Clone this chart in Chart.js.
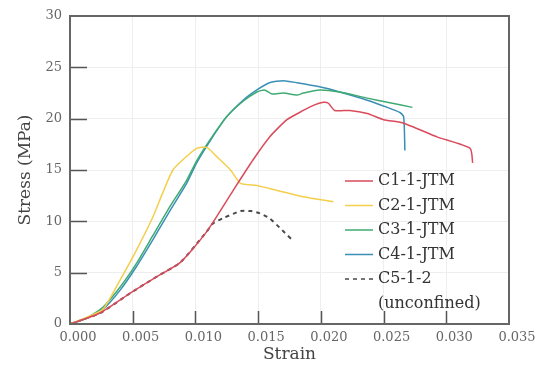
<!DOCTYPE html>
<html>
<head>
<meta charset="utf-8">
<script src="https://cdn.jsdelivr.net/npm/chart.js@4"></script>
<style>
  html, body { margin: 0; padding: 0; background: #fff; }
  #wrap { width: 543px; height: 378px; position: relative; }
</style>
</head>
<body>
<div id="wrap"><canvas id="chart"></canvas></div>
<script>
/* ===== DATA ===== */

const seriesLabels = ["C1-1-JTM", "C2-1-JTM", "C3-1-JTM", "C4-1-JTM", "C5-1-2\n(unconfined)"];
const seriesColors = ["#d94b5c", "#f3cf4c", "#3fab72", "#3b8fb6", "#4a4a4a"];

const c1Strain = [0, 0.0024, 0.0048, 0.0069, 0.0088, 0.0109, 0.0130, 0.0146, 0.0159, 0.0173, 0.0186, 0.0194, 0.0202, 0.0206, 0.0211, 0.0223, 0.0237, 0.0250, 0.0265, 0.0293, 0.0319, 0.0321];
const c1Stress = [0, 1.07, 3.0, 4.6, 6.0, 9.0, 13.0, 16.0, 18.2, 19.9, 20.8, 21.3, 21.6, 21.5, 20.8, 20.8, 20.5, 19.9, 19.6, 18.2, 17.1, 15.7];

const c2Strain = [0, 0.0012, 0.0026, 0.0040, 0.0053, 0.0066, 0.0074, 0.0082, 0.0090, 0.0101, 0.0109, 0.0117, 0.0128, 0.0136, 0.0149, 0.0159, 0.0186, 0.0210];
const c2Stress = [0, 0.6, 1.4, 4.3, 7.2, 10.4, 12.8, 15.0, 16.0, 17.1, 17.2, 16.3, 15.0, 13.7, 13.5, 13.2, 12.4, 11.9];

const c3Strain = [0, 0.0012, 0.0026, 0.0040, 0.0053, 0.0066, 0.0080, 0.0093, 0.0101, 0.0112, 0.0125, 0.0138, 0.0149, 0.0155, 0.0161, 0.0170, 0.0181, 0.0186, 0.0199, 0.0215, 0.0237, 0.0253, 0.0273];
const c3Stress = [0, 0.5, 1.6, 3.6, 5.9, 8.6, 11.5, 14.0, 15.9, 18.0, 20.2, 21.7, 22.6, 22.8, 22.4, 22.5, 22.3, 22.5, 22.8, 22.6, 22.0, 21.6, 21.1];

const c4Strain = [0, 0.0012, 0.0026, 0.0040, 0.0053, 0.0066, 0.0080, 0.0093, 0.0101, 0.0112, 0.0125, 0.0138, 0.0149, 0.0159, 0.0170, 0.0181, 0.0199, 0.0215, 0.0237, 0.0253, 0.0263, 0.0266, 0.0267];
const c4Stress = [0, 0.5, 1.4, 3.3, 5.6, 8.2, 11.1, 13.7, 15.7, 17.9, 20.2, 21.8, 22.8, 23.5, 23.7, 23.5, 23.1, 22.6, 21.8, 21.1, 20.6, 20.2, 16.9];

const c5Strain = [0, 0.0024, 0.0048, 0.0069, 0.0088, 0.0109, 0.0114, 0.0122, 0.0136, 0.0144, 0.0151, 0.0159, 0.0167, 0.0177];
const c5Stress = [0, 1.07, 3.0, 4.6, 6.0, 9.0, 9.8, 10.3, 11.0, 11.0, 10.8, 10.3, 9.4, 8.2];

const xTicks = [0, 0.005, 0.010, 0.015, 0.020, 0.025, 0.030, 0.035];
const yTicks = [0, 5, 10, 15, 20, 25, 30];

/* ===== HELPERS ===== */

function toPoints(xs, ys) {
  return xs.map((x, i) => ({ x, y: ys[i] }));
}

const SERIF = "'DejaVu Serif', 'Liberation Serif', serif";

// tick marks drawn inside the plot box
const innerTicks = {
  id: "innerTicks",
  afterDatasetsDraw(chart) {
    const { ctx, chartArea: a, scales } = chart;
    ctx.save();
    ctx.strokeStyle = "#555";
    ctx.lineWidth = 1.5;
    ctx.beginPath();
    yTicks.forEach(v => {
      if (v === 0 || v === 30) return;
      const y = Math.round(scales.y.getPixelForValue(v)) + 0.5;
      ctx.moveTo(a.left, y);
      ctx.lineTo(a.left + 17, y);
    });
    xTicks.forEach((v, i) => {
      if (i === 0 || i === xTicks.length - 1) return;
      const x = Math.round(scales.x.getPixelForValue(v)) + 0.5;
      ctx.moveTo(x, a.bottom);
      ctx.lineTo(x, a.bottom - 13);
    });
    ctx.stroke();
    // box
    ctx.strokeStyle = "#666";
    ctx.lineWidth = 2;
    ctx.strokeRect(a.left, a.top, a.right - a.left, a.bottom - a.top);
    ctx.restore();
  }
};

// legend inside lower right
const innerLegend = {
  id: "innerLegend",
  afterDraw(chart) {
    const { ctx } = chart;
    ctx.save();
    ctx.font = "16px " + SERIF;
    ctx.fillStyle = "#333";
    ctx.textBaseline = "middle";
    let y = 181;
    chart.data.datasets.forEach(ds => {
      ctx.strokeStyle = ds.borderColor;
      ctx.lineWidth = 1.5;
      ctx.setLineDash(ds.borderDash || []);
      ctx.beginPath();
      ctx.moveTo(345, y);
      ctx.lineTo(373, y);
      ctx.stroke();
      ctx.setLineDash([]);
      ds.label.split("\n").forEach(line => {
        ctx.fillText(line, 378, y);
        y += 24.5;
      });
    });
    ctx.restore();
  }
};

/* ===== CHART ===== */

const allSeries = [
  toPoints(c1Strain, c1Stress),
  toPoints(c2Strain, c2Stress),
  toPoints(c3Strain, c3Stress),
  toPoints(c4Strain, c4Stress),
  toPoints(c5Strain, c5Stress)
];

const datasets = allSeries.map((pts, i) => ({
  label: seriesLabels[i],
  data: pts,
  borderColor: seriesColors[i],
  borderWidth: i === 4 ? 2 : 1.5,
  borderDash: i === 4 ? [4, 4] : [],
  pointRadius: 0,
  tension: 0.2,
  fill: false
}));

new Chart(document.getElementById("chart"), {
  type: "line",
  data: { datasets },
  options: {
    responsive: true,
    maintainAspectRatio: false,
    animation: false,
    layout: { padding: { left: 0, right: 34, top: 16, bottom: 0 } },
    plugins: { legend: { display: false }, tooltip: { enabled: false } },
    scales: {
      x: {
        type: "linear",
        min: 0,
        max: 0.035,
        afterFit: s => { s.height = 54; },
        afterBuildTicks: s => { s.ticks = xTicks.map(v => ({ value: v })); },
        grid: { color: "#eeeeee", drawTicks: false },
        border: { display: false },
        ticks: {
          padding: 6,
          labelOffset: 8,
          color: "#666",
          font: { family: SERIF, size: 13 },
          callback: v => v.toFixed(3)
        },
        title: {
          display: true,
          text: "Strain",
          color: "#444",
          font: { family: SERIF, size: 17 },
          padding: { top: 0, bottom: 13 }
        }
      },
      y: {
        min: 0,
        max: 30,
        afterFit: s => { s.width = 70; },
        afterBuildTicks: s => { s.ticks = yTicks.map(v => ({ value: v })); },
        grid: { color: "#eeeeee", drawTicks: false },
        border: { display: false },
        ticks: {
          padding: 8,
          color: "#666",
          font: { family: SERIF, size: 13 }
        },
        title: {
          display: true,
          text: "Stress (MPa)",
          color: "#444",
          font: { family: SERIF, size: 17 },
          padding: { top: 15, bottom: 0 }
        }
      }
    }
  },
  plugins: [innerTicks, innerLegend]
});
</script>
</body>
</html>
